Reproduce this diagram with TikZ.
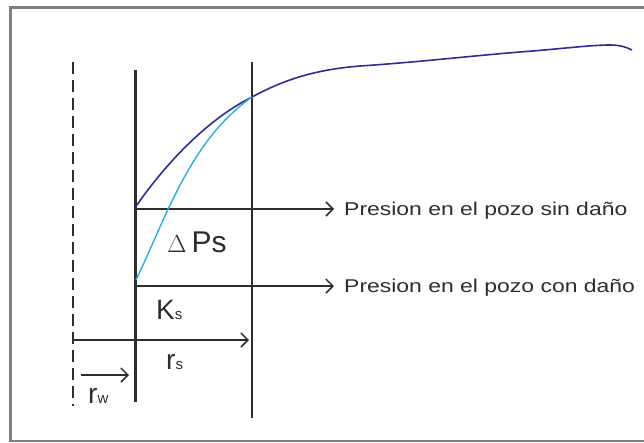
\documentclass[tikz,border=0pt]{standalone}
\usepackage{fontspec}
\setmainfont{Liberation Sans}
\usetikzlibrary{arrows.meta}

\definecolor{curvaazul}{RGB}{45,45,150}
\definecolor{curvacian}{RGB}{40,175,225}
\definecolor{texto}{RGB}{45,45,45}

\begin{document}
\begin{tikzpicture}[
    x=1pt, y=-1pt,
    >={Straight Barb[length=7pt,width=14pt]},
    marco/.style={draw=gray, line width=2.5pt},
    eje/.style={draw=texto, line width=1.6pt},
    flecha/.style={->, draw=texto, line width=1.5pt},
    etiq/.style={text=texto, inner sep=0pt, font=\fontsize{18.5}{21}\selectfont},
    letra/.style={text=texto, inner sep=0pt}
]
    \useasboundingbox (0,0) rectangle (644,442);
    \draw[marco] (644,7.5) -- (10.5,7.5) -- (10.5,441) -- (644,441);

    % lineas verticales
    \coordinate (rwtop) at (73,62);
    \coordinate (rwbot) at (73,406);
    \coordinate (pozotop) at (135.5,70);
    \coordinate (pozobot) at (135.5,402);
    \coordinate (rstop) at (252,62);
    \coordinate (rsbot) at (252,418);
    \draw[eje, dash pattern=on 12pt off 6pt] (rwtop) -- (rwbot);
    \draw[eje, line width=3pt] (pozotop) -- (pozobot);
    \draw[eje, line width=1.8pt] (rstop) -- (rsbot);

    % textos
    \node[etiq, anchor=west] (sin) at (344,211) {\scalebox{1.24}[1]{Presion en el pozo sin daño}};
    \node[etiq, anchor=west] (con) at (344,288) {\scalebox{1.24}[1]{Presion en el pozo con daño}};
    \node[letra, font=\fontsize{30}{32}\selectfont] (dp) at (197,242) {$\Delta$\,Ps};
    \node[letra, anchor=base west] (ks) at (156,319) {\fontsize{28}{30}\selectfont K\fontsize{15}{16}\selectfont s};
    \node[letra, anchor=base west] (rs) at (166,369) {\fontsize{28}{30}\selectfont r\fontsize{15}{16}\selectfont s};
    \node[letra, anchor=base west] (rw) at (88,403) {\fontsize{28}{30}\selectfont r\fontsize{15}{16}\selectfont w};

    % flechas
    \coordinate (psin) at (135.5,209);
    \coordinate (pcon) at (135.5,286);
    \coordinate (rsini) at (73,340);
    \coordinate (rsfin) at (249,340);
    \coordinate (rwini) at (81,375);
    \coordinate (rwfin) at (129,375);
    \draw[flecha] (psin) -- ([xshift=-10pt]sin.west |- psin);
    \draw[flecha] (pcon) -- ([xshift=-10pt]con.west |- pcon);
    \draw[flecha] (rsini) -- (rsfin);
    \draw[flecha] (rwini) -- (rwfin);

    % curvas de presion
    \draw[curvaazul, line width=1.6pt] (135.5,207)
        .. controls (168,160) and (210,118) .. (252,97)
        .. controls (280,82) and (310,70) .. (360,66)
        .. controls (420,62) and (470,56) .. (520,52)
        .. controls (560,49) and (590,45) .. (610,45)
        .. controls (620,45) and (626,47) .. (632,50);
    \draw[curvacian, line width=1.4pt] (136,280)
        .. controls (165,220) and (190,140) .. (252,97);
\end{tikzpicture}
\end{document}
